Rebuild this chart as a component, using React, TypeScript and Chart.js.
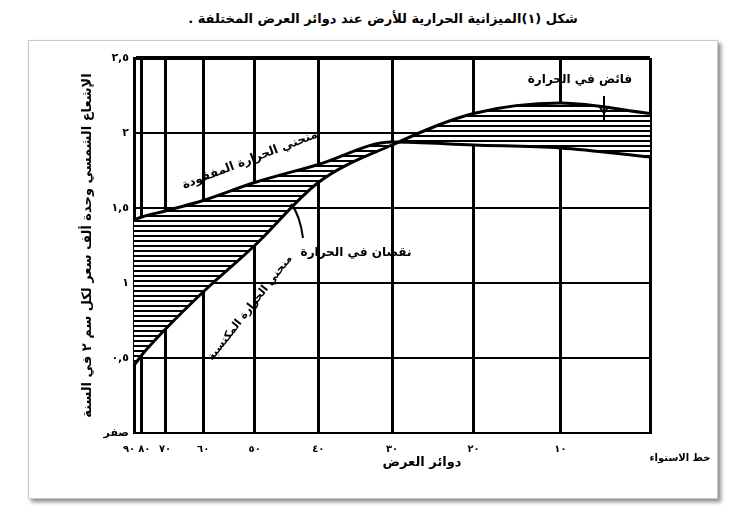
import React, { useEffect, useRef } from "react";
import { Chart, registerables } from "chart.js";
Chart.register(...registerables);

// Latitudes (degrees) from the pole to the equator
const LATITUDES = [90, 80, 70, 60, 50, 40, 30, 20, 10, 0];
const LAT_LABELS = ["٩٠\u2003", "\u2002٨٠", "٧٠", "٦٠", "٥٠", "٤٠", "٣٠", "٢٠", "١٠", ""];
// Heat gained (incoming solar radiation) — thousand calories / cm² / year
const HEAT_GAINED = [0.45, 0.52, 0.69, 0.94, 1.25, 1.67, 1.92, 2.13, 2.2, 2.13];
// Heat lost (outgoing radiation)
const HEAT_LOST = [1.42, 1.44, 1.48, 1.55, 1.67, 1.79, 1.94, 1.92, 1.9, 1.84];
const Y_TICKS = [0, 0.5, 1, 1.5, 2, 2.5];
const Y_LABELS = ["صفر", "٠,٥", "١", "١,٥", "٢", "٢,٥"];

const TITLE = "شكل (١)الميزانية الحرارية للأرض عند دوائر العرض المختلفة .";
const Y_TITLE = "الإشعاع الشمسي وحدة ألف سعر لكل سم ٢ في السنة";
const X_TITLE = "دوائر العرض";
const EQUATOR = "خط الاستواء";
const LOST_LABEL = "منحني الحرارة المفقودة";
const GAINED_LABEL = "منحني الحرارة المكتسبة";
const DEFICIT_LABEL = "نقصان في الحرارة";
const SURPLUS_LABEL = "فائض في الحرارة";

// area-proportional (sine) latitude position
const latPos = (lat: number) => 1 - Math.sin((lat * Math.PI) / 180);

const FONT = "DejaVu Sans";

function makeHatch(): any {
  const c = document.createElement("canvas");
  c.width = 8;
  c.height = 5;
  const g = c.getContext("2d")!;
  g.fillStyle = "#ffffff";
  g.fillRect(0, 0, 8, 5);
  g.fillStyle = "#000000";
  g.fillRect(0, 0, 8, 2);
  return g.createPattern(c, "repeat");
}

const annotationPlugin = {
  id: "annotations",
  afterDraw(chart: any) {
    const ctx = chart.ctx as CanvasRenderingContext2D;
    ctx.save();
    ctx.fillStyle = "#000";
    ctx.strokeStyle = "#000";
    (ctx as any).direction = "rtl";
    ctx.textAlign = "center";
    ctx.textBaseline = "middle";
    const text = (s: string, x: number, y: number, size: number, angle = 0) => {
      ctx.save();
      ctx.translate(x, y);
      ctx.rotate((angle * Math.PI) / 180);
      ctx.font = `bold ${size}px "${FONT}"`;
      ctx.fillText(s, 0, 0);
      ctx.restore();
    };
    text(LOST_LABEL, 250, 160, 12, -21);
    text(GAINED_LABEL, 250, 308, 11, -52);
    text(DEFICIT_LABEL, 356, 253, 12);
    text(SURPLUS_LABEL, 580, 80, 12);
    text(X_TITLE, 422, 463, 13);
    text(EQUATOR, 680, 458, 10);

    ctx.lineWidth = 2;
    ctx.beginPath();
    ctx.moveTo(291, 204);
    ctx.quadraticCurveTo(300, 215, 303, 238);
    ctx.stroke();
    ctx.beginPath();
    ctx.moveTo(604, 96);
    ctx.lineTo(604, 120);
    ctx.stroke();
    ctx.beginPath();
    ctx.moveTo(599, 106);
    ctx.lineTo(604, 113);
    ctx.lineTo(609, 106);
    ctx.stroke();
    ctx.restore();
  },
};

export default function App() {
  const ref = useRef<HTMLCanvasElement>(null);

  useEffect(() => {
    const hatch = makeHatch();
    const gained = LATITUDES.map((lat, i) => ({ x: latPos(lat), y: HEAT_GAINED[i] }));
    const lost = LATITUDES.map((lat, i) => ({ x: latPos(lat), y: HEAT_LOST[i] }));
    const chart = new Chart(ref.current!, {
      type: "line",
      data: {
        datasets: [
          {
            label: GAINED_LABEL,
            data: gained,
            borderColor: "#000",
            borderWidth: 3,
            pointRadius: 0,
            cubicInterpolationMode: "monotone",
            fill: false,
          },
          {
            label: LOST_LABEL,
            data: lost,
            borderColor: "#000",
            borderWidth: 3,
            pointRadius: 0,
            cubicInterpolationMode: "monotone",
            fill: { target: 0, above: hatch, below: hatch },
          } as any,
        ],
      },
      options: {
        responsive: false,
        animation: false,
        layout: { padding: { left: 0, right: 95, top: 58, bottom: 0 } },
        plugins: { legend: { display: false }, tooltip: { enabled: false }, title: { display: false } },
        scales: {
          x: {
            type: "linear",
            min: 0,
            max: 1,
            afterBuildTicks: (s: any) => {
              s.ticks = LATITUDES.map((lat) => ({ value: latPos(lat) }));
            },
            afterFit: (s: any) => {
              s.height = 79;
            },
            ticks: {
              autoSkip: false,
              maxRotation: 0,
              padding: 10,
              color: "#000",
              font: { family: FONT, size: 10, weight: "bold" },
              callback: (_v: any, i: number) => LAT_LABELS[i],
            },
            grid: { color: "#000", lineWidth: 3, drawTicks: false },
            border: { color: "#000", width: 2 },
          },
          y: {
            type: "linear",
            min: 0,
            max: 2.5,
            afterBuildTicks: (s: any) => {
              s.ticks = Y_TICKS.map((v) => ({ value: v }));
            },
            afterFit: (s: any) => {
              s.width = 134;
            },
            ticks: {
              padding: 5,
              color: "#000",
              font: { family: FONT, size: 11, weight: "bold" },
              callback: (_v: any, i: number) => Y_LABELS[i],
            },
            grid: {
              color: "#000",
              drawTicks: false,
              lineWidth: (c: any) => (c.tick && c.tick.value === 2.5 ? 4 : 2),
            },
            border: { color: "#000", width: 3 },
            title: {
              display: true,
              text: Y_TITLE,
              color: "#000",
              font: { family: FONT, size: 13, weight: "bold" },
              padding: { top: 80, bottom: 0 },
            },
          },
        },
      },
      plugins: [annotationPlugin],
    } as any);
    return () => chart.destroy();
  }, []);

  return (
    <div style={{ position: "fixed", left: 0, top: 0, width: 745, height: 512, background: "#fff", overflow: "hidden" }}>
      <div
        dir="rtl"
        style={{
          position: "absolute",
          left: 0,
          top: 11,
          width: 766,
          textAlign: "center",
          fontFamily: FONT,
          fontWeight: "bold",
          fontSize: 13,
          color: "#000",
        }}
      >
        {TITLE}
      </div>
      <div
        style={{
          position: "absolute",
          left: 28,
          top: 40,
          width: 688,
          height: 457,
          border: "1px solid #c8c8c8",
          boxShadow: "3px 3px 4px rgba(0,0,0,0.45)",
          background: "#fff",
        }}
      />
      <canvas ref={ref} width={745} height={512} style={{ position: "absolute", left: 0, top: 0 }} />
    </div>
  );
}
